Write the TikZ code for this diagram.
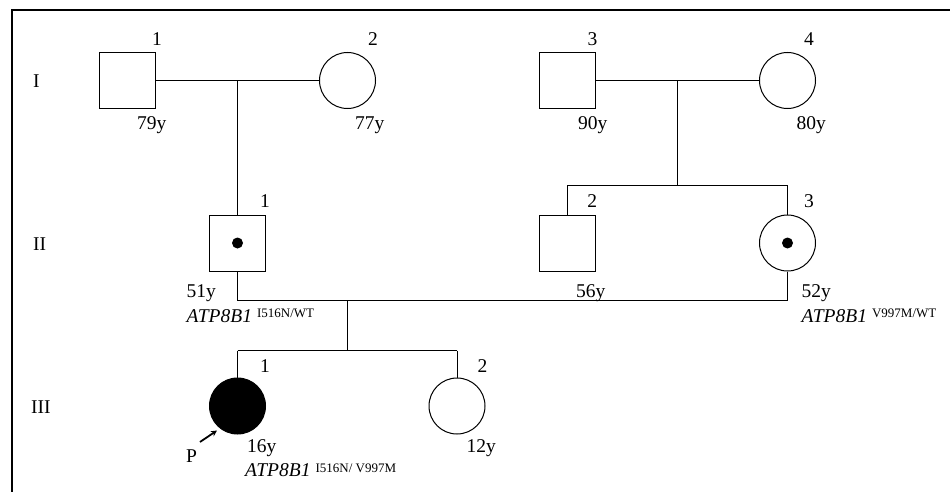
\documentclass[tikz,border=0pt]{standalone}
\usepackage{fontspec}
\setmainfont{Liberation Serif}
\usetikzlibrary{arrows.meta}
\newcommand{\genelabel}[1]{\textit{ATP8B1}\hspace{5pt}\raisebox{4.4pt}{\fontsize{13}{15}\selectfont #1}}
\begin{document}
\begin{tikzpicture}[x=1pt,y=-1pt,
  sq/.style={draw, line width=1pt, rectangle, minimum size=56pt, inner sep=0pt},
  ci/.style={draw, line width=1pt, circle, minimum size=56pt, inner sep=0pt},
  ln/.style={line width=1pt},
  lbl/.style={inner sep=0pt, font=\fontsize{19.5}{22}\selectfont},
  num/.style={lbl, anchor=base},
  txt/.style={lbl, anchor=base west},
  dotmark/.style={circle, fill=black, minimum size=11pt, inner sep=0pt}]
\useasboundingbox (0,0) rectangle (950,492);
% frame
\coordinate (fr1) at (950,10);
\coordinate (fr2) at (12,10);
\coordinate (fr3) at (12,492);
\draw[line width=1.2pt] (fr1) -- (fr2) -- (fr3);

% generation labels
\node[txt] (gI) at (33,88) {I};
\node[txt] (gII) at (33,250) {II};
\node[txt] (gIII) at (31,413) {III};

% generation I
\node[sq] (i1) at (127.5,80.5) {};
\node[ci] (i2) at (347.5,80.5) {};
\node[sq] (i3) at (567,80.5) {};
\node[ci] (i4) at (787.5,80.5) {};
\node[num] (i1n) at (157,45.7) {1};
\node[num] (i2n) at (373,45.7) {2};
\node[num] (i3n) at (592.5,45.7) {3};
\node[num] (i4n) at (809,45.7) {4};
\node[txt] (i1a) at (137,130) {79y};
\node[txt] (i2a) at (355,130) {77y};
\node[txt] (i3a) at (578,130) {90y};
\node[txt] (i4a) at (796.5,130) {80y};

% generation II
\node[sq] (ii1) at (237.5,243) {};
\node[dotmark] (ii1d) at (237.5,243) {};
\node[sq] (ii2) at (567,243) {};
\node[ci] (ii3) at (787.5,243) {};
\node[dotmark] (ii3d) at (787.5,243) {};
\node[num] (ii1n) at (265,207.3) {1};
\node[num] (ii2n) at (592.3,207.3) {2};
\node[num] (ii3n) at (809,207.3) {3};
\node[txt] (ii1a) at (186.5,297) {51y};
\node[txt] (ii2a) at (576,297) {56y};
\node[txt] (ii3a) at (801.5,297) {52y};
\node[txt] (ii1g) at (186.5,322) {\genelabel{I516N/WT}};
\node[txt] (ii3g) at (801.5,322) {\genelabel{V997M/WT}};

% generation III
\node[ci, fill=black] (iii1) at (237.5,406) {};
\node[ci] (iii2) at (457,406) {};
\node[num] (iii1n) at (265,372.5) {1};
\node[num] (iii2n) at (482.5,372.5) {2};
\node[txt] (iii1a) at (247,452.5) {16y};
\node[txt] (iii2a) at (466.5,452.5) {12y};
\node[txt] (iii1g) at (245,476.5) {\genelabel{I516N/ V997M}};
\node[txt] (pl) at (186,462.3) {P};
\coordinate (ptail) at (200,442);
\coordinate (phead) at (217,430.5);
\draw[line width=1.8pt, -{Stealth[length=6pt,width=6pt]}] (ptail) -- (phead);

% connectors generation I
\coordinate (m1) at (237.5,80.5);
\coordinate (m2) at (677,80.5);
\coordinate (s2) at (677,185);
\coordinate (s2l) at (567,185);
\coordinate (s2r) at (787.5,185);
\draw[ln] (i1.east) -- (i2.west);
\draw[ln] (i3.east) -- (i4.west);
\draw[ln] (m1) -- (ii1.north);
\draw[ln] (m2) -- (s2);
\draw[ln] (s2l) -- (s2r);
\draw[ln] (s2l) -- (ii2.north);
\draw[ln] (s2r) -- (ii3.north);

% connectors generation II
\coordinate (c1) at (237.5,300);
\coordinate (c2) at (787.5,300);
\coordinate (d1) at (347.5,300);
\coordinate (d2) at (347.5,350.5);
\coordinate (s3l) at (237.5,350.5);
\coordinate (s3r) at (457,350.5);
\draw[ln] (ii1.south) -- (c1) -- (c2) -- (ii3.south);
\draw[ln] (d1) -- (d2);
\draw[ln] (s3l) -- (s3r);
\draw[ln] (s3l) -- (iii1.north);
\draw[ln] (s3r) -- (iii2.north);
\end{tikzpicture}
\end{document}
